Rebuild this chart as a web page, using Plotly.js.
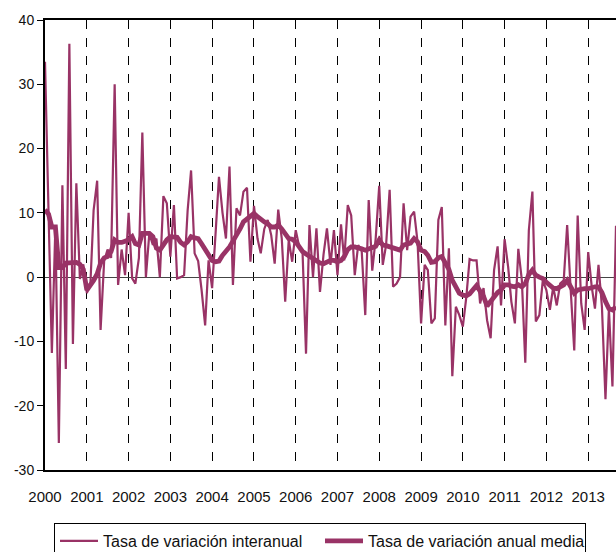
<!DOCTYPE html>
<html>
<head>
<meta charset="utf-8">
<script src="https://cdn.plot.ly/plotly-3.0.1.min.js"></script>
<style>
html,body{margin:0;padding:0;background:#fff;}
#chart{width:616px;height:552px;}
</style>
</head>
<body>
<div id="chart"></div>
<script>
// Monthly data, Jan 2000 - Sep 2013
var startYear = 2000;
var yearLabels = ["2000","2001","2002","2003","2004","2005","2006","2007","2008","2009","2010","2011","2012","2013"];
var yTickValues = [-30, -20, -10, 0, 10, 20, 30, 40];
var yTickLabels = ["-30", "-20", "-10", "0", "10", "20", "30", "40"];

var tasaInteranual = [
  // 2000
  33.5, 9.5, -11.8, 8, -25.8, 14.3, -14.3, 36.3, -10.4, 14.6, -0.3, 2,
  // 2001
  -2.5, -1, 10.4, 15, -8.2, 2.5, 4.3, 3, 30, -1.2, 4.3, 0.3,
  // 2002
  10, -0.2, -1, 3, 22.5, 0, 6.8, 5, 6, 0, 12.6, 11.5,
  // 2003
  3.2, 11.2, -0.2, 0, 0.3, 10.4, 16.6, 3.7, 2.5, -2, -7.5, 2.6,
  // 2004
  -1.7, 7, 15.6, 10, 6, 17.2, -1.2, 10.7, 9.6, 13.3, 13.9, 2.4,
  // 2005
  11.1, 6, 3.7, 7.5, 8.9, 6.5, 2.1, 10.5, 6, -3.8, 5.8, 2.4,
  // 2006
  7.3, 4.7, 4.2, -11.9, 8.1, 0, 7.6, -2.3, 3.5, 7.6, 1.9, 7.3,
  // 2007
  0.3, 8.2, 2.6, 11.2, 9.6, 0.3, 5, 4, -5.9, 12, 1, 6,
  // 2008
  14.2, 1.9, 5, 13.6, -1.5, -1, 0, 11.5, 4.2, 9.4, 10.2, 5.5,
  // 2009
  -7.2, 1.9, 1.1, -7.2, -6.4, 8.9, 10.9, -7.5, 4.5, -15.4, -4.6, -5.9,
  // 2010
  -7.7, -3, 2.8, 2.6, 2.6, -4.1, -1.7, -6.7, -9.5, 1.1, 4.8, -4.4,
  // 2011
  5.9, 1.6, -3.8, -7.2, 4.4, -0.5, -13.3, 7.3, 13.3, -6.9, -5.9, -0.5,
  // 2012
  -2, -5.1, -1.5, -4.4, -1, -0.5, 8.1, -2, -11.4, 9.6, -4.1, -8.2,
  // 2013
  3.9, -1.5, -4.9, 1.9, -4.6, -19, -4.9, -17, 8
];

var tasaAnualMedia = [
  // 2000
  10.5, 9.8, 7.8, 7.8, 1.5, 1.5, 2.2, 2.2, 2.3, 2.3, 2, 1.2,
  // 2001
  -2, -1.3, -0.5, 0.5, 2.2, 3, 3.2, 4, 5.8, 5.4, 5.4, 5.6,
  // 2002
  5.8, 6.3, 5.2, 5, 6.8, 6.8, 6.8, 6.3, 4.5, 4.2, 5.2, 5.8,
  // 2003
  6.3, 6.3, 6.2, 5.4, 5, 5.5, 6.3, 6.1, 6, 5.2, 4.2, 3.3,
  // 2004
  2.6, 2.4, 2.5, 3.4, 4, 4.7, 5.6, 6.4, 7.5, 8.6, 9, 9.4,
  // 2005
  9.9, 9.4, 8.9, 8.6, 8.3, 7.8, 7.8, 8.1, 7.5, 6.8, 6, 5.9,
  // 2006
  5.5, 4.7, 4, 3.6, 3.2, 2.9, 2.6, 2.2, 2.1, 2.4, 2.6, 2.6,
  // 2007
  2.4, 2.6, 3.2, 4.3, 4.7, 4.7, 4.6, 4.4, 4.2, 4.4, 4.6, 4.8,
  // 2008
  5.8, 5, 4.9, 4.7, 4.6, 4.5, 4.2, 5, 5.2, 5.3, 6, 5.5,
  // 2009
  4.2, 4, 3.4, 2.3, 2.4, 3, 3.2, 2.1, 1.2, -0.5, -1.7, -2.5,
  // 2010
  -2.8, -2.9, -2.6, -2, -1.3, -2.2, -3, -4.5, -3.9, -3.1, -2.4, -2,
  // 2011
  -1.2, -1.2, -1.4, -1.5, -1.2, -1.5, -1, 0.4, 1.1, 0.3, 0, -0.2,
  // 2012
  -0.8, -1.4, -1.7, -1.8, -1.5, -1.2, -0.5, -1.5, -2.5, -2, -1.8, -1.8,
  // 2013
  -1.8, -1.6, -1.5, -1.5, -2.4, -3.8, -4.9, -5.1, -4.6
];

function pad(n){ return (n < 10 ? "0" : "") + n; }
var dates = [];
for (var i = 0; i < tasaInteranual.length; i++) {
  var y = startYear + Math.floor(i / 12);
  var m = (i % 12) + 1;
  dates.push(y + "-" + pad(m) + "-01");
}
var tickVals = yearLabels.map(function(y){ return y + "-01-01"; });

var color = "#993366";
var font = "Liberation Sans, Arial, sans-serif";

var traces = [
  {
    x: dates, y: tasaInteranual, type: "scatter", mode: "lines",
    name: "Tasa de variación interanual",
    line: {color: color, width: 2.2}
  },
  {
    x: dates, y: tasaAnualMedia, type: "scatter", mode: "lines",
    name: "Tasa de variación anual media",
    line: {color: color, width: 4.8}
  }
];

var layout = {
  width: 616, height: 552,
  margin: {l: 45, r: 0, t: 20, b: 82},
  paper_bgcolor: "#fff", plot_bgcolor: "#fff",
  font: {family: font, size: 14, color: "#111"},
  showlegend: true,
  hovermode: false,
  xaxis: {
    type: "date",
    range: [dates[0], dates[dates.length - 1]],
    tickvals: tickVals, ticktext: yearLabels,
    showgrid: true, gridcolor: "#000", gridwidth: 1, griddash: "dash",
    showline: true, linecolor: "#000", linewidth: 2, mirror: true,
    ticks: "", zeroline: false,
    ticklabelstandoff: 12,
    tickfont: {family: font, size: 15, color: "#111"}
  },
  yaxis: {
    range: [-30, 40],
    tickmode: "array", tickvals: yTickValues, ticktext: yTickLabels,
    showgrid: false,
    zeroline: true, zerolinecolor: "#444", zerolinewidth: 1,
    showline: true, linecolor: "#000", linewidth: 2,
    ticks: "outside", ticklen: 6, tickcolor: "#000", tickwidth: 1,
    tickfont: {family: font, size: 14, color: "#111"}
  },
  legend: {
    orientation: "h",
    xref: "container", yref: "container",
    x: 54/616, y: 1 - 523/552, xanchor: "left", yanchor: "top",
    bordercolor: "#000", borderwidth: 1, bgcolor: "#fff",
    font: {family: font, size: 16, color: "#111"},
    itemwidth: 38, entrywidth: 212, entrywidthmode: "pixels", tracegroupgap: 0
  }
};

Plotly.newPlot("chart", traces, layout, {displayModeBar: false, staticPlot: true});
</script>
</body>
</html>
